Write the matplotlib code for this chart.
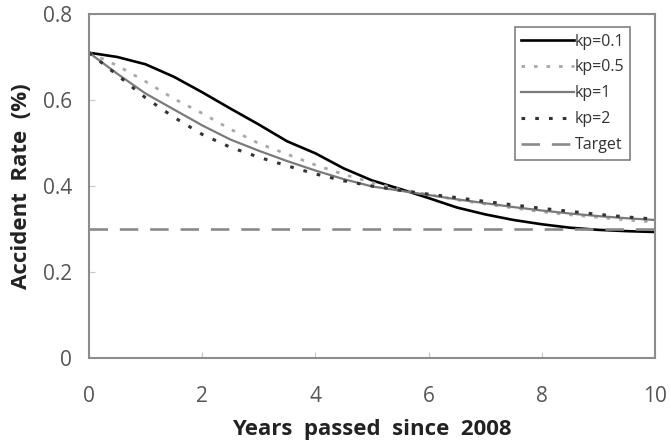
import matplotlib
matplotlib.use("Agg")
import matplotlib.pyplot as plt
import numpy as np

years = [0, 0.5, 1, 1.5, 2, 2.5, 3, 3.5, 4, 4.5, 5, 5.5, 6, 6.5, 7, 7.5, 8, 8.5, 9, 9.5, 10]
kp01 = [0.71, 0.700, 0.683, 0.654, 0.618, 0.580, 0.543, 0.504, 0.476, 0.441, 0.413, 0.393, 0.372,
        0.350, 0.334, 0.321, 0.311, 0.303, 0.298, 0.295, 0.293]
kp05 = [0.71, 0.680, 0.643, 0.603, 0.569, 0.532, 0.499, 0.474, 0.449, 0.427, 0.408, 0.392, 0.380,
        0.368, 0.358, 0.349, 0.340, 0.333, 0.327, 0.321, 0.316]
kp1 = [0.71, 0.661, 0.615, 0.578, 0.541, 0.508, 0.482, 0.458, 0.436, 0.416, 0.399, 0.389, 0.379,
       0.369, 0.360, 0.351, 0.343, 0.336, 0.330, 0.325, 0.321]
kp2 = [0.71, 0.658, 0.605, 0.560, 0.520, 0.490, 0.467, 0.447, 0.428, 0.412, 0.400, 0.390, 0.381,
       0.373, 0.364, 0.356, 0.348, 0.341, 0.334, 0.328, 0.323]
target = 0.3
xticks = [0, 2, 4, 6, 8, 10]
yticks = [0, 0.2, 0.4, 0.6, 0.8]
ytick_labels = ["0", "0.2", "0.4", "0.6", "0.8"]

plt.rcParams['font.family'] = ['Open Sans', 'DejaVu Sans']

fig = plt.figure(figsize=(6.71, 4.48), dpi=100)
ax = fig.add_axes([0.1326, 0.2009, 0.976 - 0.1326, 0.9688 - 0.2009])

ax.plot(years, kp01, color='black', lw=1.9, label='kp=0.1')
ax.plot(years, kp05, color='#a8a8a8', lw=2.0, linestyle=(0, (1.3, 3.2)), label='kp=0.5')
ax.plot(years, kp1, color='#7a7a7a', lw=1.6, label='kp=1')
ax.plot(years, kp2, color='#333333', lw=2.2, linestyle=(0, (1.2, 3.3)), label='kp=2')
ax.plot([years[0], years[-1]], [target, target], color='#8a8a8a', lw=1.9,
        linestyle=(0, (7.0, 4.5)), label='Target')

ax.set_xlim(0, 10)
ax.set_ylim(0, 0.8)
ax.set_xticks(xticks)
ax.set_yticks(yticks)
ax.set_yticklabels(ytick_labels)

for s in ax.spines.values():
    s.set_color('#8c8c8c')
    s.set_linewidth(1.5)
ax.tick_params(direction='in', length=4, width=0.8, color='#c8c8c8',
               labelsize=15, labelcolor='#555555')
ax.tick_params(axis='y', pad=12)
ax.tick_params(axis='x', pad=20)

ax.set_xlabel('Years  passed  since  2008', fontsize=16, fontweight='bold', color='#222222', labelpad=9)
ax.set_ylabel('Accident  Rate  (%)', fontsize=16, fontweight='bold', color='#222222', labelpad=8)

leg = ax.legend(loc='upper right', fontsize=11.5, handlelength=3.3, handletextpad=0.05,
                labelspacing=0.62, borderpad=0.4, fancybox=False, framealpha=1,
                edgecolor='#808080', bbox_to_anchor=(0.971, 0.985))
leg.get_frame().set_linewidth(1.2)
for t in leg.get_texts():
    t.set_color('#333333')

fig.savefig('out.png', dpi=100)
